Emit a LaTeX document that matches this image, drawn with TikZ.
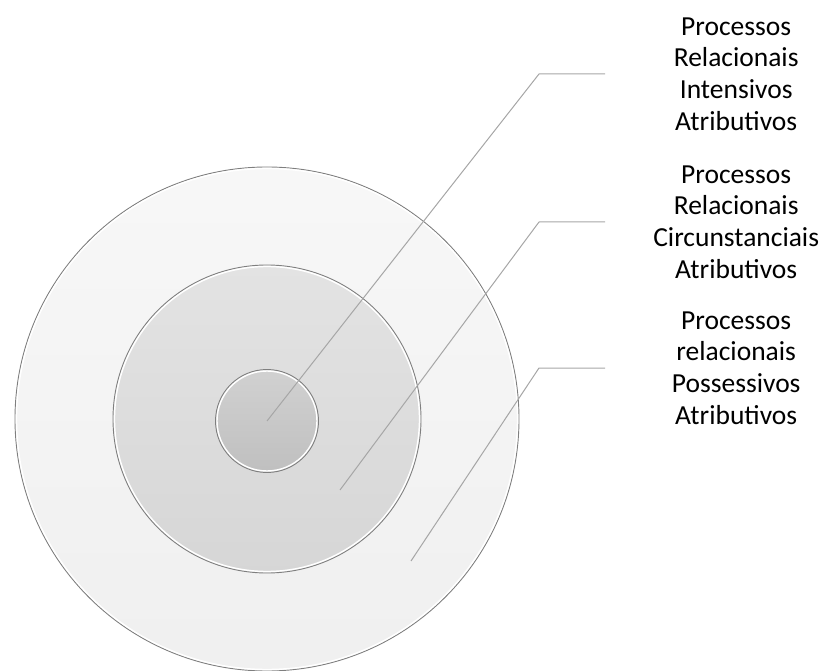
\documentclass[tikz,border=0pt]{standalone}
\usepackage{fontspec}
\setmainfont{Carlito}
\usetikzlibrary{positioning}

\definecolor{ringline}{HTML}{7F7F7F}
\definecolor{leader}{HTML}{A6A6A6}

\begin{document}
\begin{tikzpicture}[x=1pt,y=-1pt]
  \tikzset{
    ring/.style={
      draw=ringline,
      line width=0.9pt
    },
    rim/.style={
      draw=white,
      line width=1.4pt
    },
    line/.style={
      draw=leader,
      line width=1pt,
      line join=round
    },
    label/.style={
      anchor=west,
      inner sep=0pt,
      text width=262pt,
      align=center,
      font=\fontsize{27.5}{31.7}\selectfont
    }
  }
  \useasboundingbox (0,0) rectangle (828,671);

  % rings, outside in
  \shade[top color=black!3,bottom color=black!6] (267,419) circle (252);
  \draw[ring] (267,419) circle (252);
  \draw[rim] (267,419) circle (250.5);
  \shade[top color=black!11,bottom color=black!16] (267,419) circle (154);
  \draw[ring] (267,419) circle (154);
  \draw[rim] (267,419) circle (152.5);
  \shade[top color=black!18,bottom color=black!25] (267,421) circle (51.5);
  \draw[ring] (267,421) circle (51.5);
  \draw[rim] (267,421) circle (50);

  % labels
  \node[label] (intensivos) at (605,74) {Processos\\Relacionais\\Intensivos\\Atributivos};
  \node[label] (circunstanciais) at (605,222) {Processos\\Relacionais\\Circunstanciais\\Atributivos};
  \node[label] (possessivos) at (605,368) {Processos\\relacionais\\Possessivos\\Atributivos};

  % leaders
  \coordinate (core) at (267,421);
  \coordinate (middle) at (340,490);
  \coordinate (outer) at (411,561);
  \coordinate (bendone) at (539,74);
  \coordinate (bendtwo) at (539,222);
  \coordinate (bendthree) at (539,368);

  \draw[line] (core) -- (bendone) -- (intensivos.west);
  \draw[line] (middle) -- (bendtwo) -- (circunstanciais.west);
  \draw[line] (outer) -- (bendthree) -- (possessivos.west);
\end{tikzpicture}
\end{document}
